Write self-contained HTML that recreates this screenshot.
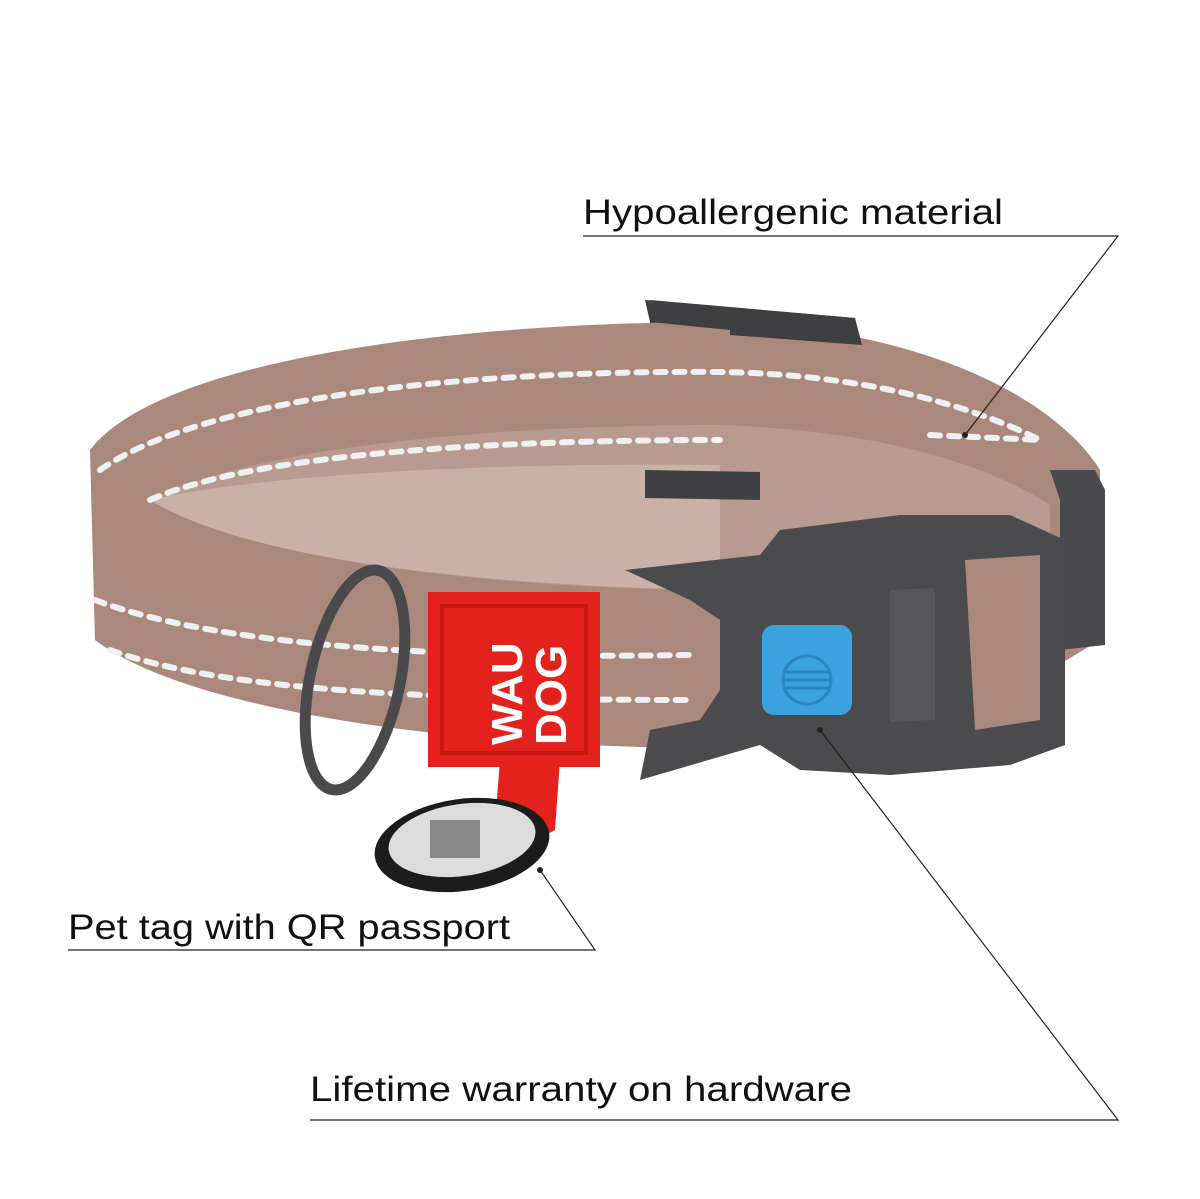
<!DOCTYPE html>
<html><head><meta charset="utf-8"><style>
html,body{margin:0;padding:0;background:#fff;width:1200px;height:1199px;overflow:hidden}
svg{display:block}
text{font-family:"Liberation Sans",sans-serif}
</style></head><body>
<svg width="1200" height="1199" viewBox="0 0 1200 1199" xmlns="http://www.w3.org/2000/svg">
<rect width="1200" height="1199" fill="#fff"/>
<!-- back buckle piece (behind) -->
<path d="M650,300 L855,318 L860,345 L860,500 L650,495 Z" fill="#3f3f42"/>
<!-- collar outer -->
<path d="M90,450 C150,370 400,325 700,322 C900,322 1050,390 1100,470 L1100,640 L1000,700 L690,748 C420,745 180,705 95,640 Z" fill="#ab887c"/>
<!-- interior -->
<path d="M150,500 C260,445 500,425 720,425 C870,430 980,460 1050,505 L1050,560 L690,590 C450,585 240,555 150,500 Z" fill="#b89a90"/>
<path d="M150,500 C260,475 480,462 720,465 L720,590 C450,585 240,555 150,500 Z" fill="#c9b1a8"/>
<!-- front frame of back buckle over band -->
<path d="M645,300 L855,318 L862,345 L730,335 L730,330 L650,322 Z" fill="#3f3f42"/>
<path d="M645,470 L760,472 L760,500 L645,498 Z" fill="#3f3f42"/>
<!-- reflective dashes -->
<g fill="none" stroke="#eef0f2" stroke-width="6" stroke-dasharray="10,9" stroke-linecap="round">
<path d="M100,470 C200,400 450,370 720,372 C850,374 960,400 1040,440"/>
<path d="M150,500 C250,455 480,440 720,440"/>
<path d="M95,600 C200,640 400,660 690,655"/>
<path d="M110,650 C220,690 420,700 690,700"/>
<path d="M980,615 L1060,615"/><path d="M980,670 L1060,672"/>
<path d="M930,435 L1040,440"/>
</g>
<!-- right keeper -->
<path d="M1050,470 L1095,470 L1105,490 L1105,645 L1060,650 L1060,500 Z" fill="#4a4a4d"/>
<!-- buckle -->
<path d="M625,570 L760,555 L780,530 L900,515 L1010,515 L1065,540 L1065,745 L1010,765 L890,775 L800,770 L760,745 L640,780 L650,730 L700,720 L720,690 L720,620 L690,600 Z" fill="#4b4b4e"/>
<path d="M965,560 L1040,555 L1040,720 L975,730 Z" fill="#ab887c"/>
<path d="M890,590 L935,588 L935,720 L890,722 Z" fill="#56565a"/>
<rect x="762" y="625" width="90" height="90" rx="12" fill="#3aa2de"/>
<g stroke="#2a86c0" stroke-width="3" fill="none"><circle cx="807" cy="680" r="24"/><line x1="785" y1="672" x2="829" y2="672"/><line x1="783" y1="680" x2="831" y2="680"/><line x1="785" y1="688" x2="829" y2="688"/></g>
<!-- D ring -->
<ellipse cx="355" cy="680" rx="45" ry="112" transform="rotate(12 355 680)" fill="none" stroke="#4a4a4d" stroke-width="11"/>
<!-- red tag -->
<path d="M500,760 L560,760 L555,830 Q520,850 495,825 Z" fill="#e5211d"/>
<rect x="428" y="592" width="172" height="175" fill="#e5211d"/>
<rect x="442" y="606" width="144" height="147" fill="none" stroke="#c81612" stroke-width="4"/>
<text transform="translate(522,745) rotate(-90)" font-size="44" font-weight="bold" fill="#fff">WAU</text>
<text transform="translate(566,745) rotate(-90)" font-size="44" font-weight="bold" fill="#fff">DOG</text>
<!-- pet tag -->
<ellipse cx="462" cy="845" rx="88" ry="46" transform="rotate(-8 462 845)" fill="#1c1c1c"/>
<ellipse cx="462" cy="840" rx="74" ry="36" transform="rotate(-8 462 840)" fill="#dcdcdc"/>
<rect x="430" y="820" width="50" height="38" fill="#888"/>
<!-- labels -->
<text x="583" y="224" font-size="35" fill="#111" textLength="420" lengthAdjust="spacingAndGlyphs">Hypoallergenic material</text>
<text x="68" y="939" font-size="35" fill="#111" textLength="442" lengthAdjust="spacingAndGlyphs">Pet tag with QR passport</text>
<text x="310" y="1101" font-size="35" fill="#111" textLength="542" lengthAdjust="spacingAndGlyphs">Lifetime warranty on hardware</text>
<g stroke="#222" stroke-width="1.2" fill="none">
<polyline points="583,236 1118,236 965,435"/>
<polyline points="68,950 595,950 540,870"/>
<polyline points="310,1120 1118,1120 820,730"/>
</g>
<circle cx="965" cy="435" r="3" fill="#222"/><circle cx="540" cy="870" r="3" fill="#222"/><circle cx="820" cy="730" r="3" fill="#222"/>
</svg>
</body></html>
